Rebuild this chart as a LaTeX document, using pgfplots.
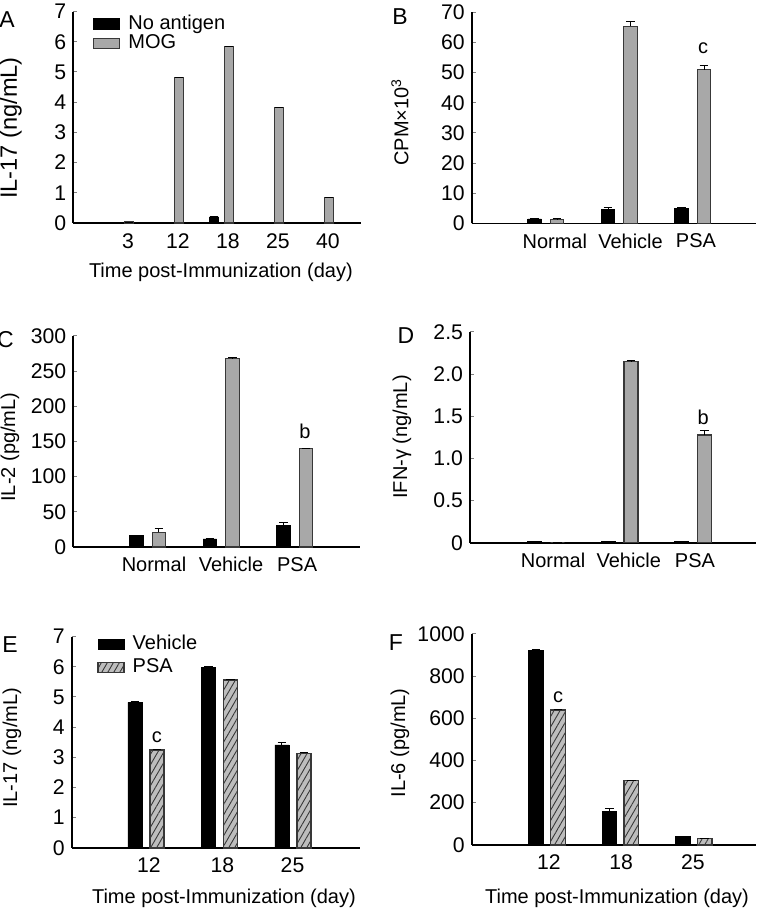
\documentclass[border=0pt]{standalone}
\usepackage{fontspec}
\setmainfont{Liberation Sans}
\usepackage{pgfplots}
\pgfplotsset{compat=1.18}
\usetikzlibrary{patterns.meta}

\definecolor{barg}{HTML}{A8A8A8}
\definecolor{edge}{HTML}{383838}
\definecolor{hatchg}{HTML}{BDBDBD}

\pgfplotsset{
  panel/.style={
    scale only axis, anchor=south west,
    axis x line=bottom, axis y line=left,
    axis line style={-, line width=0.9pt},
    ymin=0,
    xtick style={draw=none},
    ytick style={line width=0.5pt},
    tick align=inside, major tick length=2pt,
    tick label style={font=\fontsize{10}{12}\selectfont},
    yticklabel style={font=\fontsize{10.6}{12}\selectfont},
    /pgf/number format/assume math mode=true,
    /pgf/number format/1000 sep={},
    xticklabel style={yshift=-1.6pt},
    label style={font=\fontsize{10}{12}\selectfont},
    clip=false,
    legend image code/.code={\draw[#1] (0pt,-2.6pt) rectangle (13pt,2.6pt); \path (15.5pt,0pt);},
    legend style={draw=none, fill=none, inner sep=0pt, anchor=north west,
      nodes={inner sep=1.5pt}, font=\fontsize{10}{12}\selectfont},
    legend cell align=left,
  },
  numx/.style={xticklabel style={font=\fontsize{10.6}{12}\selectfont}},
  errs/.style={
    error bars/y dir=plus, error bars/y explicit,
    error bars/error bar style={black, line width=0.5pt},
    error bars/error mark options={rotate=90, mark size=2.2pt, black, line width=0.5pt},
  },
  blk/.style={ybar, bar shift=0pt, fill=black, draw=black, line width=0.4pt, errs},
  gry/.style={ybar, bar shift=0pt, fill=barg, draw=edge, line width=0.6pt, errs},
  hat/.style={ybar, bar shift=0pt, fill=hatchg, draw=edge, line width=0.6pt, errs,
    postaction={pattern={Lines[angle=60,distance=2.6pt,line width=0.45pt]}, pattern color=edge}},
}

\begin{document}
\begin{tikzpicture}
\useasboundingbox (0,0) rectangle (378.5pt,455.5pt);

% A
\begin{axis}[panel, numx, at={(36.65pt,344pt)}, width=143.85pt, height=105.75pt,
  xmin=-1.094, xmax=4.66, ymax=7, ytick={0,1,...,7}, bar width=0.19,
  xtick={0,1,2,3,4}, xticklabels={3,12,18,25,40},
  ylabel={IL-17 (ng/mL)},
  ylabel style={at={(axis description cs:-0.217,0.449)}, anchor=center, font=\fontsize{11.8}{14}\selectfont},
  xlabel={Time post-Immunization (day)}, xlabel style={at={(axis description cs:0.513,-0.232)}, anchor=center},
  legend style={at={(axis description cs:0.068,0.998)}, row sep=-2pt}]
\addplot[blk] table[x=x,y=y,y error=e]{
x y e
-0.28 0 0
0.72 0 0
1.72 0.2 0
2.72 0 0
3.72 0 0
};
\addplot[gry] table[x=x,y=y,y error=e]{
x y e
0.02 0.03 0
1.02 4.82 0
2.02 5.84 0
3.02 3.82 0
4.02 0.85 0
};
\legend{No antigen, MOG}
\end{axis}

% B
\begin{axis}[panel, at={(235.85pt,343.75pt)}, width=142.15pt, height=105.6pt,
  xmin=-1.161, xmax=2.707, ymax=70, ytick={0,10,...,70}, bar width=0.184,
  xtick={-0.03,1,1.89}, xticklabels={Normal,Vehicle,PSA},
  ylabel={CPM×10\textsuperscript{3}}, ylabel style={at={(axis description cs:-0.252,0.48)}, anchor=center}]
\addplot[blk] table[x=x,y=y,y error=e]{
x y e
-0.306 1.5 0.2
0.694 4.7 0.6
1.694 5.0 0.3
};
\addplot[gry] table[x=x,y=y,y error=e]{
x y e
0 1.4 0.2
1 65.4 1.4
2 51.0 1.5
};
\node[font=\fontsize{10}{12}\selectfont] at (axis cs:1.986,58) {c};
\end{axis}

% C
\begin{axis}[panel, at={(36.65pt,182pt)}, width=143.35pt, height=105.6pt,
  xmin=-1.166, xmax=2.735, ymax=300, ytick={0,50,...,300}, bar width=0.184,
  xtick={-0.068,0.98,1.88}, xticklabels={Normal,Vehicle,PSA},
  ylabel={IL-2 (pg/mL)}, ylabel style={at={(axis description cs:-0.221,0.473)}, anchor=center}]
\addplot[blk] table[x=x,y=y,y error=e]{
x y e
-0.307 17 0
0.693 11.4 0
1.693 30.3 4
};
\addplot[gry] table[x=x,y=y,y error=e]{
x y e
0 20.9 5.6
1 268 1
2 140 0.5
};
\node[font=\fontsize{10}{12}\selectfont] at (axis cs:1.986,163.8) {b};
\end{axis}

% D
\begin{axis}[panel, at={(235pt,184.05pt)}, width=143pt, height=105.5pt,
  xmin=-1.19, xmax=2.70, ymax=2.5, ytick={0,0.5,1,1.5,2,2.5},
  yticklabels={0,0.5,1.0,1.5,2.0,2.5}, bar width=0.19,
  xtick={-0.06,0.97,1.87}, xticklabels={Normal,Vehicle,PSA},
  ylabel={IFN-γ (ng/mL)}, ylabel style={at={(axis description cs:-0.238,0.502)}, anchor=center}]
\addplot[blk] table[x=x,y=y,y error=e]{
x y e
-0.313 0.02 0
0.687 0.02 0
1.687 0.02 0
};
\addplot[gry] table[x=x,y=y,y error=e]{
x y e
0 0 0
1 2.147 0.012
2 1.278 0.05
};
\node[font=\fontsize{10}{12}\selectfont] at (axis cs:1.98,1.488) {b};
\end{axis}

% E
\begin{axis}[panel, numx, at={(35.85pt,31.55pt)}, width=144.15pt, height=105.7pt,
  xmin=-1.16, xmax=2.762, ymax=7, ytick={0,1,...,7}, bar width=0.19,
  xtick={-0.109,0.891,1.844}, xticklabels={12,18,25},
  ylabel={IL-17 (ng/mL)}, ylabel style={at={(axis description cs:-0.207,0.473)}, anchor=center},
  xlabel={Time post-Immunization (day)}, xlabel style={at={(axis description cs:0.528,-0.237)}, anchor=center},
  legend style={at={(axis description cs:0.088,1.021)}}]
\addplot[blk] table[x=x,y=y,y error=e]{
x y e
-0.3 4.82 0.02
0.7 5.98 0.03
1.7 3.41 0.07
};
\addplot[hat] table[x=x,y=y,y error=e]{
x y e
0 3.24 0.03
1 5.56 0.02
2 3.13 0.04
};
\legend{Vehicle, PSA}
\node[font=\fontsize{10}{12}\selectfont] at (axis cs:0,3.68) {c};
\end{axis}

% F
\begin{axis}[panel, numx, at={(235.85pt,33.05pt)}, width=142.15pt, height=105.5pt,
  xmin=-1.177, xmax=2.70, ymax=1000, ytick={0,200,...,1000}, bar width=0.198,
  xtick={-0.123,0.86,1.84}, xticklabels={12,18,25},
  ylabel={IL-6 (pg/mL)}, ylabel style={at={(axis description cs:-0.252,0.483)}, anchor=center},
  xlabel={Time post-Immunization (day)}, xlabel style={at={(axis description cs:0.511,-0.252)}, anchor=center}]
\addplot[blk] table[x=x,y=y,y error=e]{
x y e
-0.3 923 5
0.7 160.6 12
1.7 42 0
};
\addplot[hat] table[x=x,y=y,y error=e]{
x y e
0 639 4
1 304 0
2 31 0
};
\node[font=\fontsize{10}{12}\selectfont] at (axis cs:0,702) {c};
\end{axis}

% panel letters
\begin{scope}[every node/.style={font=\fontsize{11.5}{13}\selectfont}]
\node at (3.5pt,445.5pt) {A};
\node at (200pt,447pt) {B};
\node at (2.7pt,285.5pt) {C};
\node at (203pt,287.5pt) {D};
\node at (5pt,133pt) {E};
\node at (198pt,134pt) {F};
\end{scope}
\end{tikzpicture}
\end{document}
